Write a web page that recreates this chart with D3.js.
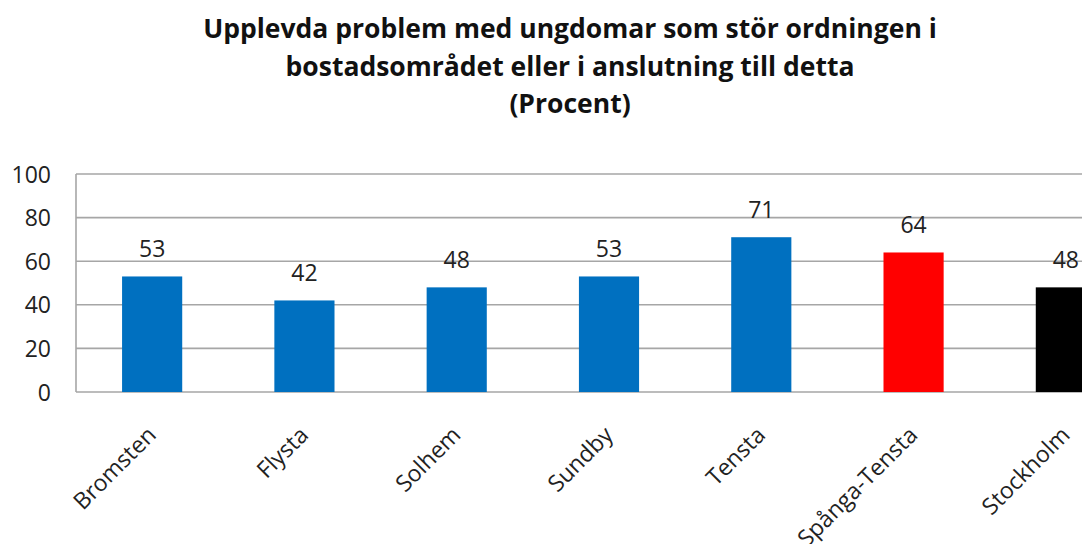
<!DOCTYPE html>
<html>
<head>
<meta charset="utf-8">
<script src="https://cdn.jsdelivr.net/npm/d3@7"></script>
<style>
  html, body { margin: 0; padding: 0; background: #fff; overflow: hidden; }
  svg { display: block; }
</style>
</head>
<body>
<svg id="chart" width="1082" height="544"></svg>
<script>
const titleLines = ["Upplevda problem med ungdomar som stör ordningen i", "bostadsområdet eller i anslutning till detta", "(Procent)"];
const categories = ["Bromsten", "Flysta", "Solhem", "Sundby", "Tensta", "Spånga-Tensta", "Stockholm"];
const values = [53, 42, 48, 53, 71, 64, 48];
const barColors = ["#0070C0", "#0070C0", "#0070C0", "#0070C0", "#0070C0", "#FF0000", "#000000"];
const yTicks = [0, 20, 40, 60, 80, 100];

const svg = d3.select("#chart");
const font = "'Open Sans', 'DejaVu Sans', sans-serif";
const plot = { left: 76, right: 1142, top: 174, bottom: 392 };

const x = d3.scaleBand().domain(categories).range([plot.left, plot.right]).paddingInner(0.605).paddingOuter(0.3025);
const y = d3.scaleLinear().domain([0, 100]).range([plot.bottom, plot.top]);

// title
svg.append("g").selectAll("text").data(titleLines).join("text")
  .attr("x", 570).attr("y", (d, i) => 38 + i * 37.5)
  .attr("text-anchor", "middle")
  .attr("font-family", font).attr("font-weight", "bold").attr("font-size", 26.5)
  .attr("fill", "#111").text(d => d);

// gridlines
svg.append("g").selectAll("line").data(yTicks).join("line")
  .attr("x1", plot.left).attr("x2", plot.right)
  .attr("y1", d => y(d)).attr("y2", d => y(d))
  .attr("stroke", "#a6a6a6").attr("stroke-width", 1.6);

// left axis line
svg.append("line").attr("x1", plot.left).attr("x2", plot.left)
  .attr("y1", plot.top).attr("y2", plot.bottom)
  .attr("stroke", "#a6a6a6").attr("stroke-width", 1.6);

// y axis labels
const yAxis = d3.axisLeft(y).tickValues(yTicks).tickSize(0).tickPadding(0);
const gy = svg.append("g").attr("transform", `translate(51,0)`).call(yAxis);
gy.select(".domain").remove();
gy.selectAll("text").attr("font-family", font).attr("font-size", 23).attr("fill", "#222").attr("dy", "0.35em");

// bars
svg.append("g").selectAll("rect").data(values).join("rect")
  .attr("x", (d, i) => x(categories[i]))
  .attr("width", x.bandwidth())
  .attr("y", d => y(d))
  .attr("height", d => y(0) - y(d))
  .attr("fill", (d, i) => barColors[i]);

// value labels
svg.append("g").selectAll("text").data(values).join("text")
  .attr("x", (d, i) => x(categories[i]) + x.bandwidth() / 2)
  .attr("y", d => y(d) - 19)
  .attr("text-anchor", "middle")
  .attr("font-family", font).attr("font-size", 23).attr("fill", "#222")
  .text(d => d);

// x labels
svg.append("g").selectAll("text").data(categories).join("text")
  .attr("transform", d => `translate(${x(d) + x.bandwidth() / 2 - 6},${425}) rotate(-45)`)
  .attr("text-anchor", "end")
  .attr("dy", "0.7em")
  .attr("font-family", font).attr("font-size", 23).attr("fill", "#222")
  .text(d => d);
</script>
</body>
</html>
